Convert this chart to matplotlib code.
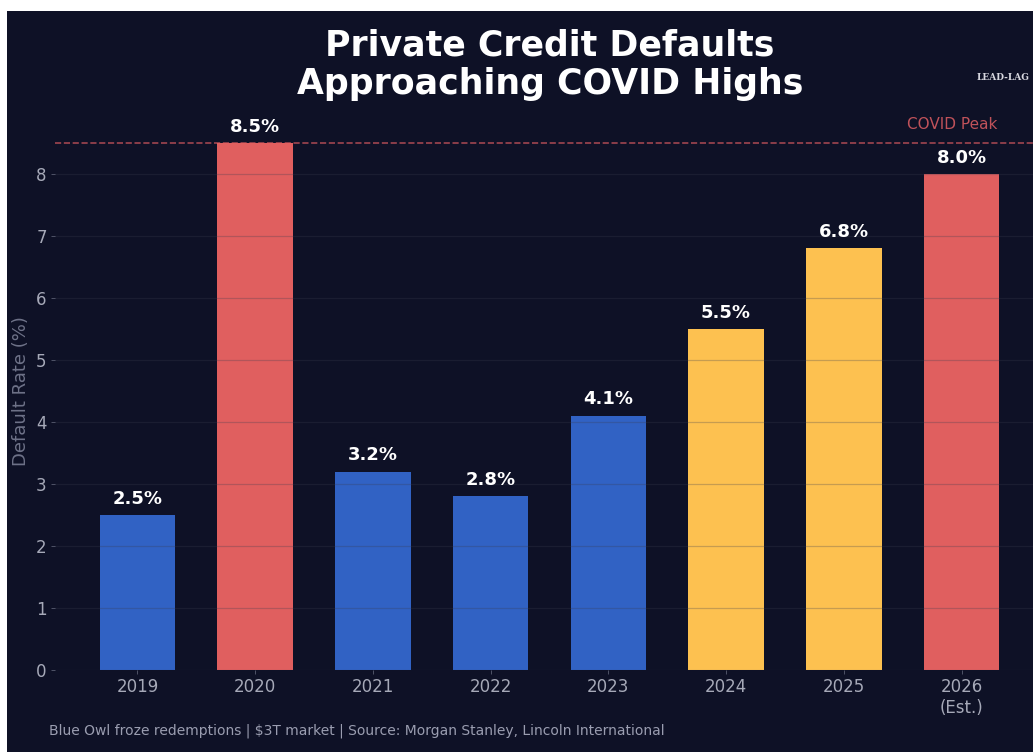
import matplotlib.pyplot as plt
from matplotlib.patches import Rectangle

# 数据
years = ["2019", "2020", "2021", "2022", "2023", "2024", "2025", "2026\n(Est.)"]
default_rates = [2.5, 8.5, 3.2, 2.8, 4.1, 5.5, 6.8, 8.0]
bar_colors = ["#3162C4", "#E05F5F", "#3162C4", "#3162C4", "#3162C4",
              "#FDC150", "#FDC150", "#E05F5F"]
covid_peak = 8.5
footer = "Blue Owl froze redemptions | $3T market | Source: Morgan Stanley, Lincoln International"

BG = "#0E1126"
TXT = "#A6A9B8"

W, H = 1033, 752
fig = plt.figure(figsize=(W / 100, H / 100), dpi=100, facecolor="white")
# 深色底板（左上留白边）
fig.patches.append(Rectangle((7 / W, 0), 1, 1 - 11 / H, transform=fig.transFigure,
                             facecolor=BG, edgecolor="none", zorder=-10))

left, right = 55 / W, 1044 / W
bottom, top = 1 - 670 / H, 1 - 112 / H
ax = fig.add_axes([left, bottom, right - left, top - bottom])
ax.set_facecolor("none")
ax.set_zorder(1)

x = list(range(len(years)))
ax.bar(x, default_rates, width=0.64, color=bar_colors, zorder=2)

for xi, v in zip(x, default_rates):
    ax.text(xi, v + 0.12, f"{v:.1f}%", ha="center", va="bottom",
            color="white", fontsize=13, fontweight="bold", zorder=4)

ax.axhline(covid_peak, color="#A04550", linestyle="--", linewidth=1.2, zorder=1)
ax.text(7.3, covid_peak + 0.17, "COVID Peak", ha="right", va="bottom",
        color="#C0525A", fontsize=11)

ax.set_xlim(-0.7, 7.7)
ax.set_ylim(0, 9.0)
ax.set_yticks(range(0, 9))
ax.set_xticks(x)
ax.set_xticklabels(years)
ax.tick_params(labelsize=12, length=3, width=0.6, pad=3)
ax.tick_params(axis="x", colors="#5A5E72", labelcolor=TXT)
ax.tick_params(axis="y", colors="#5A5E72", labelcolor=TXT)
ax.set_ylabel("Default Rate (%)", color="#6E7288", fontsize=13, labelpad=4)
ax.yaxis.grid(True, color="#3A3D50", alpha=0.28, linewidth=0.9, zorder=3)
ax.set_axisbelow(False)
for s in ax.spines.values():
    s.set_visible(False)

fig.text(550 / W, 1 - 65 / H, "Private Credit Defaults\nApproaching COVID Highs",
         ha="center", va="center", color="white", fontsize=25,
         fontweight="bold", linespacing=1.18)
fig.text(49 / W, 1 - 731 / H, footer, ha="left", va="center",
         color="#9A9DB0", fontsize=10)

# 右上角 logo 的简单替代
fig.text(1030 / W, 1 - 78 / H, "LEAD-LAG", ha="right", va="center",
         color="#D8D8E0", fontsize=6.5, fontweight="bold", family="DejaVu Serif")

fig.savefig("out.png", dpi=100, facecolor="white")
